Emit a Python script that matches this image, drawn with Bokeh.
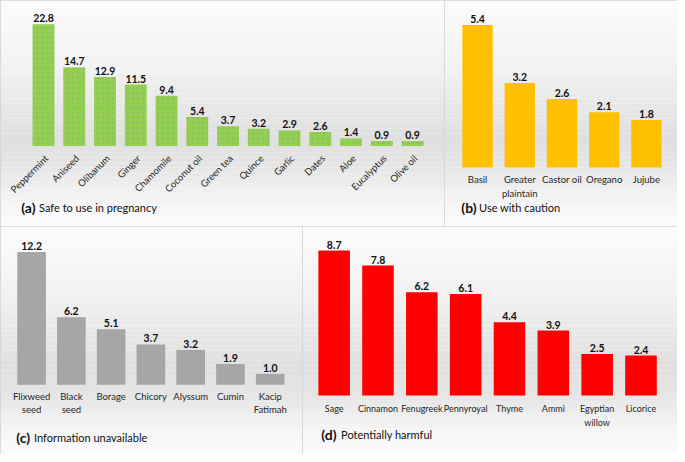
import numpy as np
from bokeh.plotting import figure
from bokeh.models import Range1d
from bokeh.layouts import column, row
from bokeh.embed import file_html
from bokeh.resources import INLINE
from bokeh.core.properties import value

# ---------------- data ----------------
a_cats = ["Peppermint", "Aniseed", "Olibanum", "Ginger", "Chamomile", "Coconut oil",
          "Green tea", "Quince", "Garlic", "Dates", "Aloe", "Eucalyptus", "Olive oil"]
a_vals = [22.8, 14.7, 12.9, 11.5, 9.4, 5.4, 3.7, 3.2, 2.9, 2.6, 1.4, 0.9, 0.9]

b_cats = ["Basil", "Greater\nplaintain", "Castor oil", "Oregano", "Jujube"]
b_vals = [5.4, 3.2, 2.6, 2.1, 1.8]

c_cats = ["Flixweed\nseed", "Black\nseed", "Borage", "Chicory", "Alyssum", "Cumin", "Kacip\nFatimah"]
c_vals = [12.2, 6.2, 5.1, 3.7, 3.2, 1.9, 1.0]

d_cats = ["Sage", "Cinnamon", "Fenugreek", "Pennyroyal", "Thyme", "Ammi", "Egyptian\nwillow", "Licorice"]
d_vals = [8.7, 7.8, 6.2, 6.1, 4.4, 3.9, 2.5, 2.4]

titles = [("(a)", "Safe to use in pregnancy"), ("(b)", "Use with caution"),
          ("(c)", "Information unavailable"), ("(d)", "Potentially harmful")]

FONT = "Lato"


def panel(cats, vals, color, tag, title, W, H, refW, refH, c0, d, base, scale, bw,
          lab_y, rotate, title_x, title_gap, title_y, hatch=None, lab_size="9.5px"):
    n = len(cats)
    xs = list(range(n))
    p = figure(width=W, height=H, output_backend="svg", toolbar_location=None,
               x_range=Range1d(-c0 / d, (refW - c0) / d),
               y_range=Range1d(-(refH - base) / scale, base / scale),
               x_axis_location=None, y_axis_location=None, min_border=0)
    p.grid.visible = False
    p.extra_x_ranges = {"px": Range1d(0, refW)}
    p.extra_y_ranges = {"px": Range1d(refH, 0)}
    p.background_fill_color = "white"
    p.border_fill_color = "white"
    p.outline_line_color = "#d2d2d2"
    p.outline_line_width = 2

    # background gradient (style only)
    nstrip = 46
    edges = np.linspace(0, refH, nstrip + 1)
    mids = (edges[:-1] + edges[1:]) / 2 / refH
    g = np.interp(mids, [0, 0.3, 0.6, 0.72, 0.9, 1.0], [252, 242, 224, 229, 246, 252])
    cols = ["#%02x%02x%02x" % (int(v), int(v), int(v)) for v in g]
    p.quad(left=0, right=refW, top=edges[:-1], bottom=edges[1:], fill_color=cols,
           line_color=None, x_range_name="px", y_range_name="px")

    kw = {}
    if hatch:
        kw = dict(hatch_pattern="dot", hatch_color=hatch, hatch_alpha=0.22, hatch_scale=5, hatch_weight=1)
    p.vbar(x=xs, top=vals, width=bw, bottom=0, fill_color=color, line_color=None, **kw)

    p.text(x=xs, y=vals, text=["%.1f" % v for v in vals], text_font=value(FONT),
           text_font_style="bold", text_font_size="10.5px", text_color="#111111",
           text_align="center", text_baseline="bottom", y_offset=-2)

    if rotate:
        p.text(x=xs, y=[lab_y] * n, text=cats, y_range_name="px", angle=np.pi / 4,
               text_font=value(FONT), text_font_size=lab_size, text_color="#262626",
               text_align="right", text_baseline="middle", x_offset=3)
    else:
        p.text(x=xs, y=[lab_y] * n, text=cats, y_range_name="px",
               text_font=value(FONT), text_font_size=lab_size, text_color="#262626",
               text_align="center", text_baseline="top", text_line_height=1.2)

    p.text(x=[title_x], y=[title_y], text=[tag], x_range_name="px", y_range_name="px",
           text_font=value(FONT), text_font_style="bold", text_font_size="14px",
           text_color="#111111", text_align="left", text_baseline="middle")
    p.text(x=[title_x + title_gap], y=[title_y], text=[title], x_range_name="px", y_range_name="px",
           text_font=value(FONT), text_font_size="11px", text_color="#111111",
           text_align="left", text_baseline="middle")
    return p


pa = panel(a_cats, a_vals, "#92D050", *titles[0], W=444, H=226, refW=449, refH=230,
           c0=43.5, d=31.1, base=148, scale=5.43, bw=0.71, lab_y=159, rotate=True,
           title_x=21, title_gap=18, title_y=211, hatch="#8e7bb8")
pb = panel(b_cats, b_vals, "#FFC000", *titles[1], W=233, H=226, refW=236, refH=230,
           c0=33.5, d=42.75, base=170, scale=26.85, bw=0.72, lab_y=177, rotate=False,
           title_x=17, title_gap=18, title_y=211)
pc = panel(c_cats, c_vals, "#A6A6A6", *titles[2], W=302, H=228, refW=306, refH=232,
           c0=31.5, d=40.3, base=161, scale=11.07, bw=0.72, lab_y=167.5, rotate=False,
           title_x=16, title_gap=18, title_y=215)
pd_ = panel(d_cats, d_vals, "#FF0000", *titles[3], W=375, H=228, refW=379, refH=232,
            c0=32, d=44.3, base=172, scale=16.95, bw=0.72, lab_y=180, rotate=False,
            title_x=19, title_gap=20, title_y=212, lab_size="9px")

layout = column(row(pa, pb), row(pc, pd_))
open("out.html", "w").write(file_html(layout, INLINE))
